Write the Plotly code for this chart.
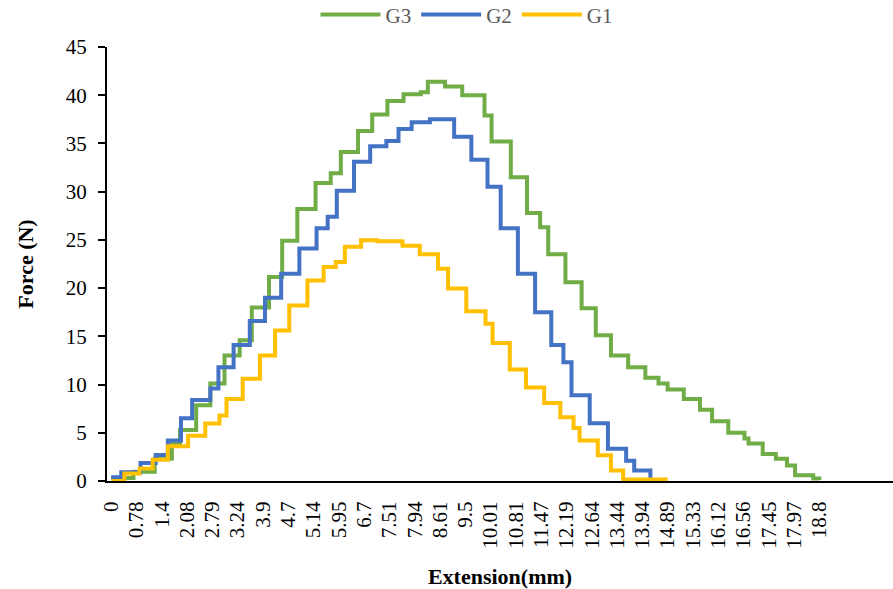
import plotly.graph_objects as go

# Extension (mm) values labelled on the category axis, one label every 25 samples
extension_labels = ["0", "0.78", "1.4", "2.08", "2.79", "3.24", "3.9", "4.7", "5.14",
                    "5.95", "6.7", "7.51", "7.94", "8.61", "9.5", "10.01", "10.81",
                    "11.47", "12.19", "12.64", "13.44", "13.94", "14.89", "15.33",
                    "16.12", "16.56", "17.45", "17.97", "18.8"]
SAMPLES_PER_LABEL = 25

# Force readings (N): sample index where each new force level starts, and the level
g3_sample = [0, 22, 43, 60, 68, 84, 98, 112, 127, 139, 156, 169, 184, 202, 217, 227,
             244, 258, 273, 289, 306, 313, 330, 347, 369, 376, 395, 411, 424, 432,
             449, 465, 479, 494, 511, 528, 541, 550, 566, 582, 594, 610, 626, 630,
             644, 657, 668, 676, 694, 700]
g3_force = [0.3, 0.95, 2.3, 3.9, 5.3, 7.85, 10.1, 13.0, 14.6, 18.0, 21.15, 24.9, 28.2,
            30.9, 31.9, 34.1, 36.3, 38.0, 39.4, 40.1, 40.3, 41.4, 40.9, 40.0, 37.9,
            35.2, 31.5, 27.8, 26.3, 23.5, 20.6, 17.9, 15.1, 13.0, 11.8, 10.7, 10.1,
            9.5, 8.5, 7.4, 6.2, 5.0, 4.4, 3.9, 2.8, 2.3, 1.6, 0.6, 0.25, 0.1]

g2_sample = [0, 10, 29, 44, 56, 69, 80, 98, 106, 121, 137, 152, 168, 186, 203, 214,
             223, 240, 256, 272, 284, 297, 315, 339, 356, 372, 385, 402, 419, 435,
             447, 455, 473, 491, 509, 517, 533, 543]
g2_force = [0.4, 0.9, 1.87, 2.7, 4.2, 6.5, 8.4, 9.6, 11.8, 14.1, 16.6, 19.0, 21.5,
            24.1, 26.2, 27.4, 30.1, 33.1, 34.7, 35.25, 36.5, 37.2, 37.5, 35.7, 33.3,
            30.5, 26.2, 21.5, 17.5, 14.1, 12.3, 8.9, 6.0, 3.35, 2.1, 1.1, 0.0, 0.0]

g1_sample = [0, 13, 28, 41, 56, 76, 93, 107, 114, 130, 147, 162, 176, 194, 210, 222,
             231, 247, 263, 288, 305, 323, 333, 351, 370, 377, 394, 410, 428, 444,
             457, 463, 481, 494, 506, 550]
g1_force = [0.0, 0.77, 1.29, 2.2, 3.6, 4.7, 5.95, 6.8, 8.5, 10.6, 13.0, 15.6, 18.2,
            20.8, 22.2, 22.7, 24.3, 24.96, 24.86, 24.4, 23.5, 22.0, 19.95, 17.6, 16.3,
            14.3, 11.55, 9.7, 8.1, 6.6, 5.5, 4.2, 2.67, 1.1, 0.15, 0.15]

series = [
    ("G3", g3_sample, g3_force, "#70AD47"),
    ("G2", g2_sample, g2_force, "#4472C4"),
    ("G1", g1_sample, g1_force, "#FFC000"),
]

fig = go.Figure()
for name, xs, ys, color in series:
    fig.add_trace(go.Scatter(
        x=xs, y=ys, name=name, mode="lines",
        line=dict(color=color, width=4, shape="hv"),
    ))

tick_positions = [i * SAMPLES_PER_LABEL for i in range(len(extension_labels))]
serif = "Liberation Serif, Times New Roman, serif"

fig.update_layout(
    width=893, height=589,
    margin=dict(l=107, r=0, t=47, b=108, autoexpand=False),
    paper_bgcolor="white", plot_bgcolor="white",
    font=dict(family=serif, size=21, color="black"),
    showlegend=True,
    legend=dict(
        orientation="h", x=0.458, xanchor="center", y=1.074, yanchor="middle",
        font=dict(family=serif, size=21, color="#595959"),
        itemwidth=60, bgcolor="rgba(0,0,0,0)",
    ),
    xaxis=dict(
        range=[-4.15, 772.8],
        tickmode="array", tickvals=tick_positions, ticktext=extension_labels,
        tickangle=-90, ticks="", ticklabelstandoff=10,
        showline=True, linecolor="black", linewidth=2,
        showgrid=False, zeroline=False, automargin=False,
        tickfont=dict(family=serif, size=21, color="black"),
        title=dict(text="<b>Extension(mm)</b>", standoff=22,
                   font=dict(family=serif, size=22, color="black")),
    ),
    yaxis=dict(
        range=[0, 45], tickmode="linear", tick0=0, dtick=5,
        ticks="outside", ticklen=7, tickwidth=2, tickcolor="black",
        ticklabelstandoff=7,
        showline=True, linecolor="black", linewidth=2,
        showgrid=False, zeroline=False, automargin=False,
        tickfont=dict(family=serif, size=21, color="black"),
        title=dict(text="<b>Force (N)</b>", standoff=26,
                   font=dict(family=serif, size=22, color="black")),
    ),
)

fig.write_html("out.html")
